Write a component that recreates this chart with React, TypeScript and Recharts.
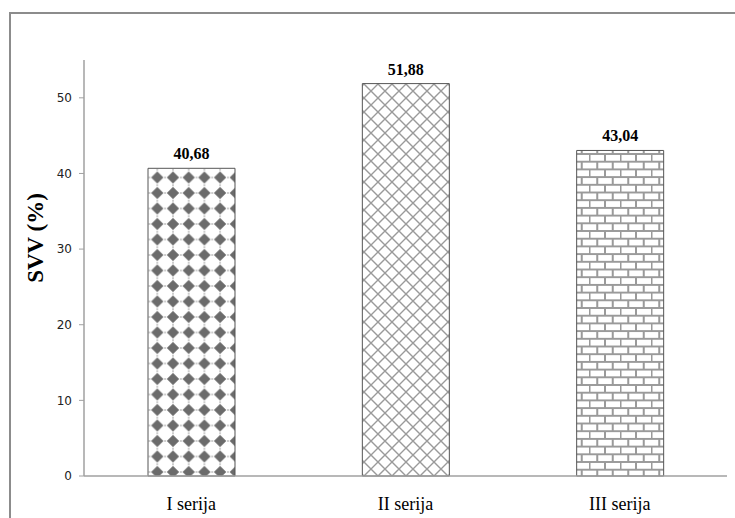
import React from "react";
import {
  BarChart,
  Bar,
  Cell,
  XAxis,
  YAxis,
  LabelList,
} from "recharts";

const series = ["I serija", "II serija", "III serija"];
const svv = [40.68, 51.88, 43.04];
const yTicks = [0, 10, 20, 30, 40, 50];
const fills = ["url(#diamonds)", "url(#crosshatch)", "url(#bricks)"];

const data = series.map((name, i) => ({ name, value: svv[i] }));

const formatComma = (v: any) => Number(v).toFixed(2).replace(".", ",");

const AxisTitle = (props: any) => {
  const { viewBox } = props;
  const x = viewBox.x + 35;
  const y = viewBox.y + 178;
  return (
    <text
      x={x}
      y={y}
      transform={`rotate(-90, ${x}, ${y})`}
      textAnchor="middle"
      dominantBaseline="central"
      fontFamily="'Liberation Serif', 'Times New Roman', serif"
      fontWeight="bold"
      fontSize={23}
      fill="#000"
    >
      SVV (%)
    </text>
  );
};

const App: React.FC = () => {
  return (
    <div
      style={{
        position: "absolute",
        left: 0,
        top: 0,
        width: 735,
        height: 518,
        background: "#fff",
        overflow: "hidden",
      }}
    >
      {/* outer frame, only left and top edges are visible */}
      <div
        style={{
          position: "absolute",
          left: 9,
          top: 12,
          width: 740,
          height: 520,
          borderLeft: "2px solid #8c8c8c",
          borderTop: "2px solid #8c8c8c",
        }}
      />
      <div style={{ position: "absolute", left: 0, top: 0 }}>
        <BarChart
          width={735}
          height={518}
          data={data}
          margin={{ top: 60, right: 8, bottom: 0, left: 0 }}
        >
          <defs>
            <pattern
              id="diamonds"
              patternUnits="userSpaceOnUse"
              x={165.15}
              y={464.25}
              width={15.7}
              height={15.5}
            >
              <rect width={15.7} height={15.5} fill="#fff" />
              <path
                d="M7.85 1.6 L14.0 7.75 L7.85 13.9 L1.7 7.75 Z"
                fill="#6b6b6b"
              />
              <rect x={7.25} y={-0.6} width={1.2} height={1.6} fill="#b0b0b0" />
              <rect x={7.25} y={14.5} width={1.2} height={1.6} fill="#b0b0b0" />
              <rect x={-0.6} y={7.15} width={1.6} height={1.2} fill="#b0b0b0" />
              <rect x={14.7} y={7.15} width={1.6} height={1.2} fill="#b0b0b0" />
            </pattern>
            <pattern
              id="crosshatch"
              patternUnits="userSpaceOnUse"
              width={14}
              height={14}
            >
              <rect width={14} height={14} fill="#fff" />
              <path
                d="M0 0 L14 14 M14 0 L0 14"
                stroke="#9a9a9a"
                strokeWidth={1.4}
              />
            </pattern>
            <pattern
              id="bricks"
              patternUnits="userSpaceOnUse"
              width={31}
              height={15.4}
            >
              <rect width={31} height={15.4} fill="#fff" />
              <path
                d="M0 0 H31 M0 7.7 H31 M0 15.4 H31 M0.5 0 V7.7 M16 0 V7.7 M8.25 7.7 V15.4 M23.75 7.7 V15.4"
                stroke="#9a9a9a"
                strokeWidth={2}
              />
            </pattern>
          </defs>
          <XAxis
            dataKey="name"
            height={42}
            tickLine={false}
            tickSize={0}
            tickMargin={21}
            axisLine={{ stroke: "#a0a0a0", strokeWidth: 1.5 }}
            tick={{
              fill: "#000",
              fontSize: 18,
              fontFamily: "'Liberation Serif', 'Times New Roman', serif",
            }}
          />
          <YAxis
            width={84}
            domain={[0, 55]}
            ticks={yTicks}
            interval={0}
            tickSize={5}
            tickMargin={7}
            axisLine={{ stroke: "#a0a0a0", strokeWidth: 1.5 }}
            tickLine={{ stroke: "#a0a0a0" }}
            tick={{ fill: "#222", fontSize: 12, fontFamily: "'DejaVu Sans', sans-serif" }}
            label={{ content: AxisTitle }}
          />
          <Bar
            dataKey="value"
            barSize={87}
            stroke="#555"
            strokeWidth={1}
            isAnimationActive={false}
          >
            {data.map((entry, index) => (
              <Cell key={`cell-${index}`} fill={fills[index]} />
            ))}
            <LabelList
              dataKey="value"
              position="top"
              offset={9}
              formatter={formatComma}
              style={{
                fill: "#000",
                fontSize: 16,
                fontWeight: "bold",
                fontFamily: "'Liberation Serif', 'Times New Roman', serif",
              }}
            />
          </Bar>
        </BarChart>
      </div>
    </div>
  );
};

export default App;
